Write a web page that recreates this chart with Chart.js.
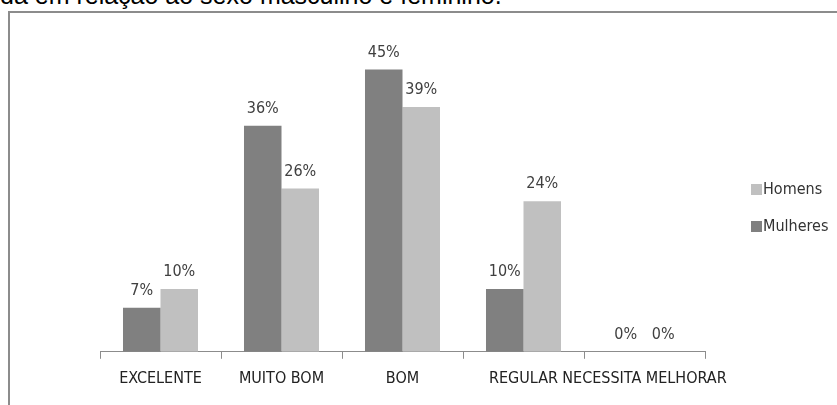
<!DOCTYPE html>
<html>
<head>
<meta charset="utf-8">
<script src="https://cdn.jsdelivr.net/npm/chart.js@4.4.1/dist/chart.umd.min.js"></script>
<style>
    body { margin: 0; background: #fff; overflow: hidden; }
    #caption {
        position: absolute; left: 0; top: -19px;
        font-family: 'Liberation Sans', Arial, sans-serif; font-size: 25px; color: #000;
        white-space: nowrap;
    }
    #frame {
        position: absolute; left: 8px; top: 11px; width: 840px; height: 400px;
        border-top: 2px solid #8c8c8c; border-left: 2px solid #8c8c8c;
    }
    #wrap { position: absolute; left: 0; top: 0; width: 837px; height: 405px; }
</style>
</head>
<body>
<div id="caption">da em relação ao sexo masculino e feminino.</div>
<div id="frame"></div>
<div id="wrap"><canvas id="chart"></canvas></div>
<script>
const categories = ['EXCELENTE', 'MUITO BOM', 'BOM', 'REGULAR', 'NECESSITA MELHORAR'];
const mulheres = [7, 36, 45, 10, 0];
const homens = [10, 26, 39, 24, 0];

const FONT = "'Liberation Sans Narrow', 'DejaVu Sans Condensed', sans-serif";

// value labels above each bar
const valueLabels = {
    id: 'valueLabels',
    afterDatasetsDraw(chart) {
        const ctx = chart.ctx;
        ctx.save();
        ctx.font = '16px ' + FONT;
        ctx.fillStyle = '#404040';
        ctx.textAlign = 'center';
        ctx.textBaseline = 'bottom';
        chart.data.datasets.forEach((ds, i) => {
            chart.getDatasetMeta(i).data.forEach((bar, j) => {
                ctx.fillText(ds.data[j] + '%', bar.x, bar.y - 9);
            });
        });
        ctx.restore();
    }
};

// legend on the right, Homens first
const sideLegend = {
    id: 'sideLegend',
    afterDraw(chart) {
        const ctx = chart.ctx;
        const x = chart.chartArea.right + 46;
        let y = 190;
        ctx.save();
        ctx.font = '16px ' + FONT;
        ctx.textBaseline = 'middle';
        ctx.textAlign = 'left';
        chart.data.datasets.slice().reverse().forEach(ds => {
            ctx.fillStyle = ds.backgroundColor;
            ctx.fillRect(x, y - 6, 11, 11);
            ctx.fillStyle = '#333';
            ctx.fillText(ds.label, x + 12, y);
            y += 37;
        });
        ctx.restore();
    }
};

new Chart(document.getElementById('chart'), {
    type: 'bar',
    data: {
        labels: categories,
        datasets: [
            {label: 'Mulheres', data: mulheres, backgroundColor: '#808080'},
            {label: 'Homens', data: homens, backgroundColor: '#c0c0c0'}
        ]
    },
    options: {
        responsive: true,
        maintainAspectRatio: false,
        animation: false,
        layout: {padding: {left: 100, right: 132, top: 38, bottom: 7}},
        datasets: {bar: {categoryPercentage: 0.62, barPercentage: 1}},
        plugins: {legend: {display: false}, tooltip: {enabled: false}},
        scales: {
            x: {
                grid: {drawOnChartArea: false, tickLength: 7, color: '#8c8c8c'},
                border: {color: '#8c8c8c'},
                ticks: {font: {family: FONT, size: 16}, color: '#222', padding: 10, autoSkip: false, maxRotation: 0}
            },
            y: {display: false, min: 0, max: 50}
        }
    },
    plugins: [valueLabels, sideLegend]
});
</script>
</body>
</html>
